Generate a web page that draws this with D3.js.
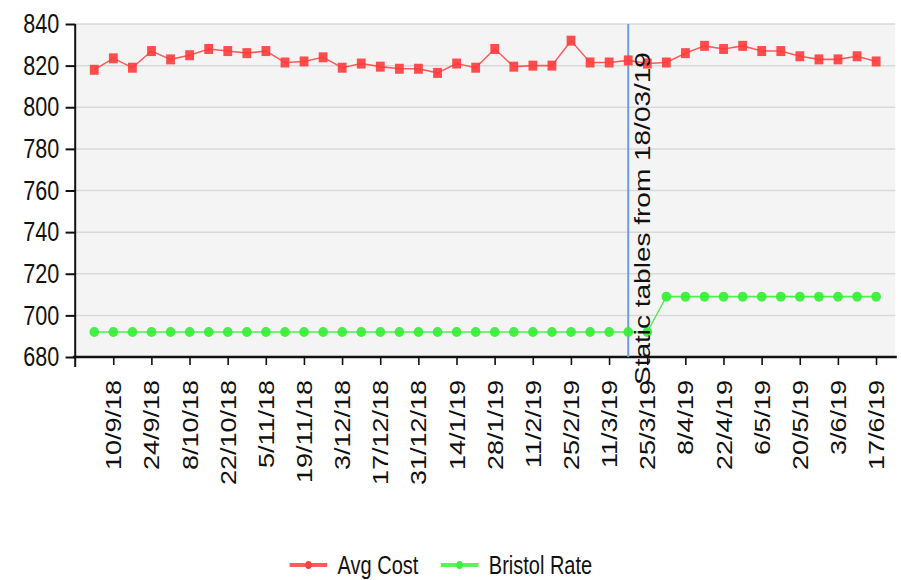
<!DOCTYPE html>
<html>
<head>
<meta charset="utf-8">
<script src="https://cdn.jsdelivr.net/npm/d3@7"></script>
<style>
  html, body { margin: 0; padding: 0; background: #fff; }
  text { font-family: "Liberation Sans", Arial, sans-serif; fill: #111; }
</style>
</head>
<body>
<div id="chart"></div>
<script>
  // weekly data
  const weeks = ["3/9/18","10/9/18","17/9/18","24/9/18","1/10/18","8/10/18","15/10/18","22/10/18","29/10/18",
    "5/11/18","12/11/18","19/11/18","26/11/18","3/12/18","10/12/18","17/12/18","24/12/18","31/12/18",
    "7/1/19","14/1/19","21/1/19","28/1/19","4/2/19","11/2/19","18/2/19","25/2/19","4/3/19","11/3/19",
    "18/3/19","25/3/19","1/4/19","8/4/19","15/4/19","22/4/19","29/4/19","6/5/19","13/5/19","20/5/19",
    "27/5/19","3/6/19","10/6/19","17/6/19"];
  const avgCost = [818, 823.5, 819, 827, 823, 825, 828, 827, 826, 827, 821.5, 822, 824, 819, 821,
    819.5, 818.5, 818.5, 816.5, 821, 819, 828, 819.5, 820, 820, 832, 821.5, 821.5, 822.5, 821,
    821.5, 826, 829.5, 828, 829.5, 827, 827, 824.5, 823, 823, 824.5, 822];
  const bristolRate = [692, 692, 692, 692, 692, 692, 692, 692, 692, 692, 692, 692, 692, 692, 692,
    692, 692, 692, 692, 692, 692, 692, 692, 692, 692, 692, 692, 692, 692, 692,
    709, 709, 709, 709, 709, 709, 709, 709, 709, 709, 709, 709];
  const yTicks = [680, 700, 720, 740, 760, 780, 800, 820, 840];
  const domainDates = ["27/8/18", "24/6/19"];
  const markerDate = "18/3/19";
  const markerLabel = "Static tables from 18/03/19";
  const seriesNames = ["Avg Cost", "Bristol Rate"];

  const parse = d3.timeParse("%d/%m/%y");
  const fmt = d => `${d.getDate()}/${d.getMonth() + 1}/${d3.timeFormat("%y")(d)}`;
  const dates = weeks.map(parse);

  // picture is drawn in a wider space then squeezed horizontally
  const sx = 0.8;
  const W = 901 / sx, H = 580;
  const mLeft = 94, mRight = 1119, mTop = 24, mBottom = 357;

  const svg = d3.select('#chart').append('svg')
    .attr('width', 901).attr('height', 580)
    .attr('viewBox', `0 0 ${W} ${H}`)
    .attr('preserveAspectRatio', 'none');

  const x = d3.scaleTime().domain(domainDates.map(parse)).range([mLeft, mRight]);
  const y = d3.scaleLinear().domain([680, 840]).range([mBottom, mTop]);

  svg.append('rect')
    .attr('x', mLeft).attr('y', mTop)
    .attr('width', mRight - mLeft).attr('height', mBottom - mTop)
    .attr('fill', '#f4f4f4');

  // gridlines
  svg.append('g').selectAll('line')
    .data(yTicks.slice(1))
    .join('line')
    .attr('x1', mLeft).attr('x2', mRight)
    .attr('y1', d => y(d)).attr('y2', d => y(d))
    .attr('stroke', '#d9d9d9').attr('stroke-width', 1.5);

  // y axis
  const yAxis = svg.append('g')
    .attr('transform', `translate(${mLeft},0)`)
    .call(d3.axisLeft(y).tickValues(yTicks).tickSize(12).tickPadding(8).tickSizeOuter(0));
  yAxis.select('.domain').remove();
  yAxis.selectAll('.tick line').attr('stroke', '#111').attr('stroke-width', 2);
  yAxis.selectAll('text').attr('font-size', 27).style('font-family', '"Liberation Sans", Arial, sans-serif').attr('fill', '#111');
  svg.append('line')
    .attr('x1', mLeft).attr('x2', mLeft).attr('y1', mTop).attr('y2', mBottom + 10)
    .attr('stroke', '#111').attr('stroke-width', 2.5);

  // x axis
  const tickDates = dates.filter((d, i) => i % 2 === 1);
  const xAxis = svg.append('g')
    .attr('transform', `translate(0,${mBottom})`)
    .call(d3.axisBottom(x).tickValues(tickDates).tickSize(8).tickFormat(fmt).tickSizeOuter(0));
  xAxis.select('.domain').remove();
  xAxis.selectAll('.tick line').attr('stroke', '#111').attr('stroke-width', 2);
  xAxis.selectAll('text')
    .attr('font-size', 27)
    .style('font-family', '"Liberation Sans", Arial, sans-serif')
    .attr('fill', '#111')
    .attr('text-anchor', 'end')
    .attr('dy', '0.35em')
    .attr('transform', 'translate(0,23) rotate(-90)')
    .attr('x', 0).attr('y', 0);
  svg.append('line')
    .attr('x1', mLeft - 3).attr('x2', mRight + 2).attr('y1', mBottom).attr('y2', mBottom)
    .attr('stroke', '#111').attr('stroke-width', 2.5);

  // marker line
  const mx = x(parse(markerDate));
  svg.append('line')
    .attr('x1', mx).attr('x2', mx).attr('y1', mTop).attr('y2', mBottom)
    .attr('stroke', '#6d9bf1').attr('stroke-width', 2.5);

  const line = d3.line().x((d, i) => x(dates[i])).y(d => y(d));

  // Avg Cost
  svg.append('path').datum(avgCost)
    .attr('d', line).attr('fill', 'none')
    .attr('stroke', '#ff5a5a').attr('stroke-width', 1.6);
  svg.append('g').selectAll('rect')
    .data(avgCost)
    .join('rect')
    .attr('x', (d, i) => x(dates[i]) - 5.5).attr('y', d => y(d) - 5)
    .attr('width', 11).attr('height', 10)
    .attr('fill', '#ff3b3b').attr('opacity', 0.9);

  // Bristol Rate
  svg.append('path').datum(bristolRate)
    .attr('d', line).attr('fill', 'none')
    .attr('stroke', '#4ef04e').attr('stroke-width', 1.6);
  svg.append('g').selectAll('ellipse')
    .data(bristolRate)
    .join('ellipse')
    .attr('cx', (d, i) => x(dates[i])).attr('cy', d => y(d))
    .attr('rx', 6).attr('ry', 5)
    .attr('fill', '#33ee33').attr('opacity', 0.9);

  svg.append('text')
    .attr('transform', `translate(${mx + 27},385) rotate(-90)`)
    .attr('font-size', 28)
    .text(markerLabel);

  // legend
  const legend = [
    { name: seriesNames[0], color: '#ff4040', x0: 362 },
    { name: seriesNames[1], color: '#3ef03e', x0: 551 }
  ];
  const lg = svg.append('g').selectAll('g').data(legend).join('g')
    .attr('transform', d => `translate(${d.x0},565)`);
  lg.append('line').attr('x1', 0).attr('x2', 47).attr('y1', 0).attr('y2', 0)
    .attr('stroke', d => d.color).attr('stroke-width', 4).attr('opacity', 0.85);
  lg.append('circle').attr('cx', 23.5).attr('cy', 0).attr('r', 4).attr('fill', d => d.color);
  lg.append('text').attr('x', 60).attr('dy', '0.35em').attr('font-size', 25).text(d => d.name);
</script>
</body>
</html>
